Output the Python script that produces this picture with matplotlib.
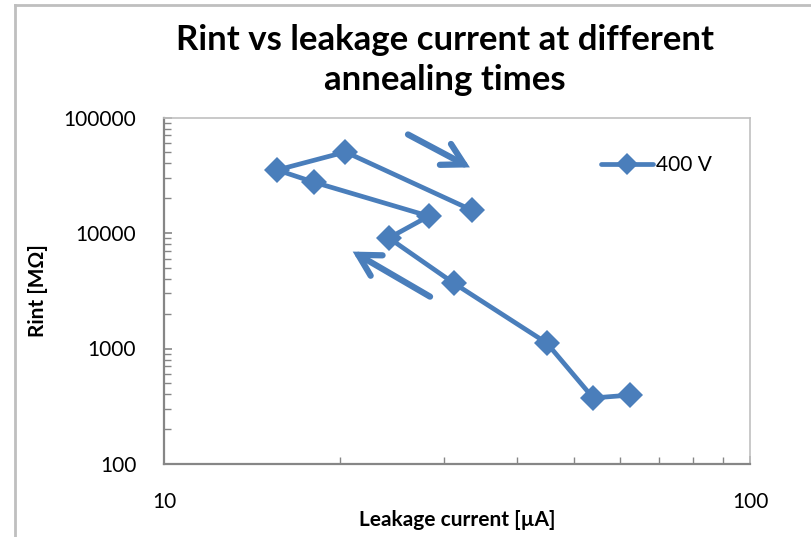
import matplotlib
matplotlib.use("Agg")
import matplotlib.pyplot as plt
from matplotlib.ticker import LogLocator, NullFormatter, FixedLocator, FixedFormatter
from matplotlib.lines import Line2D

# leakage current [uA] and Rint [MOhm] at 400 V, in annealing order
leakage_ua = [62.4, 54.0, 45.0, 31.2, 24.2, 28.3, 18.0, 15.6, 20.4, 33.5]
rint_mohm = [395, 373, 1115, 3690, 9050, 14000, 27600, 35100, 50300, 15800]

x_ticks = [10, 100]
y_ticks = [100, 1000, 10000, 100000]

blue = "#4a7ebb"
axis_grey = "#868686"
font = "Lato"

fig = plt.figure(figsize=(8.11, 5.37), dpi=100)
ax = fig.add_axes([164 / 811, 73 / 537, 586 / 811, 346.5 / 537])

ax.plot(leakage_ua, rint_mohm, color=blue, linewidth=3.4, marker="D",
        markersize=13, markeredgewidth=0, label="400 V", solid_joinstyle="round",
        solid_capstyle="round")

ax.set_xscale("log")
ax.set_yscale("log")
ax.set_xlim(10, 100)
ax.set_ylim(100, 100000)

ax.xaxis.set_major_locator(FixedLocator(x_ticks))
ax.xaxis.set_major_formatter(FixedFormatter([str(v) for v in x_ticks]))
ax.yaxis.set_major_locator(FixedLocator(y_ticks))
ax.yaxis.set_major_formatter(FixedFormatter([str(v) for v in y_ticks]))
ax.xaxis.set_minor_locator(LogLocator(base=10, subs=range(2, 10)))
ax.yaxis.set_minor_locator(LogLocator(base=10, subs=range(2, 10)))
ax.xaxis.set_minor_formatter(NullFormatter())
ax.yaxis.set_minor_formatter(NullFormatter())

ax.tick_params(which="major", direction="in", length=6, width=1.2, color=axis_grey,
               labelsize=15, labelcolor="black")
ax.tick_params(which="minor", direction="in", length=5, width=1.0, color=axis_grey)
ax.tick_params(axis="x", which="major", pad=20)
ax.tick_params(axis="y", which="major", pad=20)
for lbl in ax.get_xticklabels() + ax.get_yticklabels():
    lbl.set_fontfamily(font)

for side in ["left", "bottom"]:
    ax.spines[side].set_color(axis_grey)
    ax.spines[side].set_linewidth(1.6)
for side in ["top", "right"]:
    ax.spines[side].set_color("#c0c0c0")
    ax.spines[side].set_linewidth(1.2)

ax.set_xlabel("Leakage current [µA]", fontsize=15, fontweight="bold", fontfamily=font)
ax.xaxis.set_label_coords(0.5, -0.133)
ax.set_ylabel("Rint [MΩ]", fontsize=15, fontweight="bold", fontfamily=font,
              labelpad=11)

fig.text(445 / 811, 1 - 60 / 537, "Rint vs leakage current at different\nannealing times",
         ha="center", va="center", fontsize=25, fontweight="bold", fontfamily=font,
         linespacing=1.3)

# direction arrows
arrow_kw = dict(arrowstyle="->,head_length=0.9,head_width=0.5", color=blue,
                linewidth=4.5, shrinkA=0, shrinkB=0, mutation_scale=17,
                capstyle="round", joinstyle="miter")
ax.annotate("", xy=(0.522, 0.856), xytext=(0.4164, 0.951),
            xycoords="axes fraction", arrowprops=arrow_kw)
ax.annotate("", xy=(0.322, 0.613), xytext=(0.454, 0.483),
            xycoords="axes fraction", arrowprops=arrow_kw)

leg = ax.legend(loc="center left", bbox_to_anchor=(0.728, 0.863), frameon=False,
                handlelength=2.5, handletextpad=0.15, borderpad=0,
                prop={"family": font, "size": 15}, markerscale=0.85)

# outer chart frame (top and left edges)
fig.add_artist(Line2D([15 / 811, 15 / 811], [0, 1 - 5 / 537], transform=fig.transFigure,
                      color="#bfbfbf", linewidth=2))
fig.add_artist(Line2D([15 / 811, 1], [1 - 5 / 537, 1 - 5 / 537], transform=fig.transFigure,
                      color="#bfbfbf", linewidth=2))

fig.savefig("out.png", dpi=100)
